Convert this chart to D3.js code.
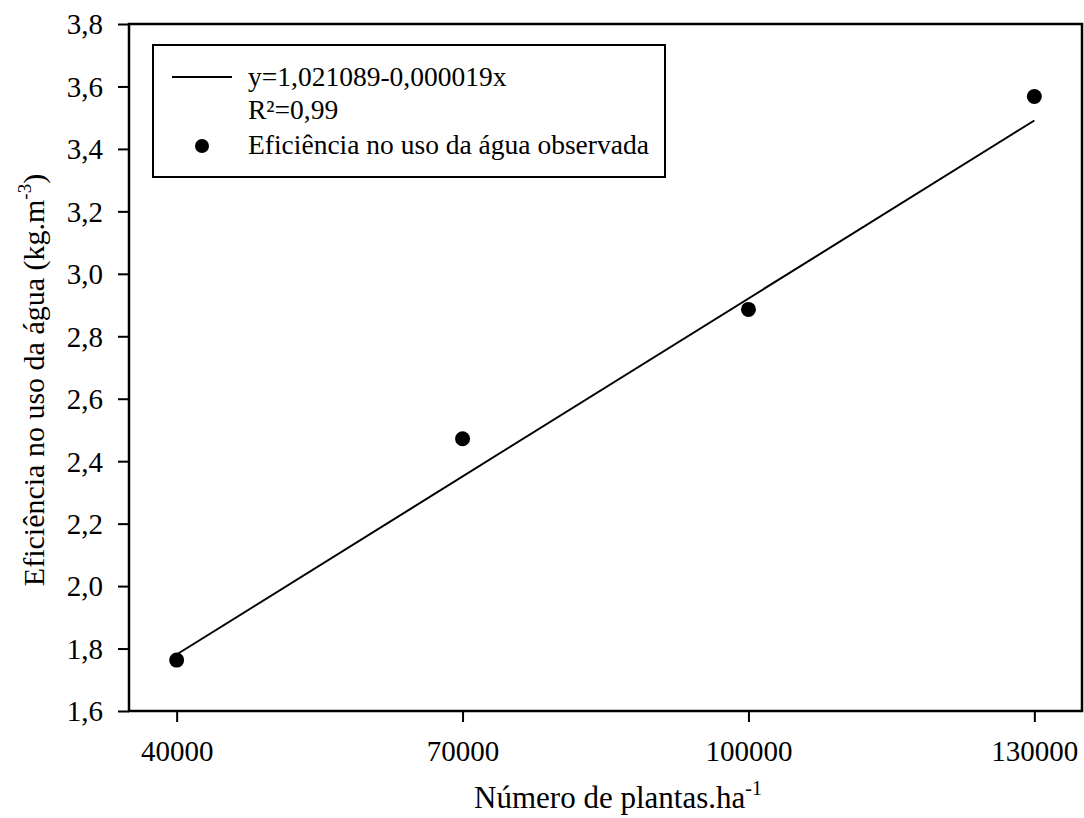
<!DOCTYPE html>
<html>
<head>
<meta charset="utf-8">
<script src="https://cdn.jsdelivr.net/npm/d3@7"></script>
<style>
    html, body { margin: 0; padding: 0; background: #fff; }
    svg { display: block; }
</style>
</head>
<body>
<div id="chartDiv"></div>
<script>
'use strict';

// Plant density (plants per hectare)
const plantDensity = [40000, 70000, 100000, 130000];
// Observed water use efficiency (kg.m-3)
const observedEfficiency = [1.763, 2.472, 2.886, 3.568];
// Fitted line at both ends
const fitDensity = [40000, 130000];
const fitEfficiency = [1.781, 3.491];

const xTicks = [40000, 70000, 100000, 130000];
const yTicks = [1.6, 1.8, 2.0, 2.2, 2.4, 2.6, 2.8, 3.0, 3.2, 3.4, 3.6, 3.8];

const legendLabels = ['y=1,021089-0,000019x', 'R²=0,99', 'Eficiência no uso da água observada'];

const width = 1084;
const height = 818;
const plot = { left: 129, right: 1082, top: 24, bottom: 711 };
const fontFamily = 'Liberation Serif';

function main() {
    let svg = d3.select('#chartDiv')
        .append('svg')
        .attr('width', width)
        .attr('height', height)
        .attr('font-family', fontFamily);

    let x = d3.scaleLinear().domain([35000, 135000]).range([plot.left, plot.right]);
    let y = d3.scaleLinear().domain([1.6, 3.8]).range([plot.bottom, plot.top]);

    drawAxes(svg, x, y);
    drawFit(svg, x, y);
    drawPoints(svg, x, y);
    drawLegend(svg);
    drawTitles(svg);
}

/*** Draws the frame, ticks and tick labels ***/
function drawAxes(svg, x, y) {
    const commaFormat = d => d.toFixed(1).replace('.', ',');

    let xAxis = svg.append('g')
        .attr('transform', `translate(0, ${plot.bottom})`)
        .call(d3.axisBottom(x).tickValues(xTicks).tickSize(11).tickPadding(18).tickFormat(d => String(d)));

    let yAxis = svg.append('g')
        .attr('transform', `translate(${plot.left}, 0)`)
        .call(d3.axisLeft(y).tickValues(yTicks).tickSize(11).tickPadding(15).tickFormat(commaFormat));

    [xAxis, yAxis].forEach(axis => {
        // d3 puts sans-serif on the axis group, put the serif back
        axis.attr('font-family', fontFamily).attr('font-size', 29);
        axis.select('.domain').remove();
        axis.selectAll('line').attr('stroke', '#000').attr('stroke-width', 2);
        axis.selectAll('text').attr('fill', '#000');
    });
    yAxis.selectAll('text').attr('dy', '0.34em');
    xAxis.selectAll('text').attr('dy', '0.72em');

    // Box round the plot area
    svg.append('rect')
        .attr('x', plot.left)
        .attr('y', plot.top)
        .attr('width', plot.right - plot.left)
        .attr('height', plot.bottom - plot.top)
        .attr('fill', 'none')
        .attr('stroke', '#000')
        .attr('stroke-width', 2.5);
}

/*** Draws the regression line ***/
function drawFit(svg, x, y) {
    let line = d3.line()
        .x(d => x(d[0]))
        .y(d => y(d[1]));

    svg.append('path')
        .datum(d3.zip(fitDensity, fitEfficiency))
        .attr('d', line)
        .attr('fill', 'none')
        .attr('stroke', '#000')
        .attr('stroke-width', 2);
}

/*** Draws the observed points ***/
function drawPoints(svg, x, y) {
    svg.selectAll('.point')
        .data(d3.zip(plantDensity, observedEfficiency))
        .enter()
        .append('circle')
        .classed('point', true)
        .attr('cx', d => x(d[0]))
        .attr('cy', d => y(d[1]))
        .attr('r', 7.5)
        .attr('fill', '#000');
}

/*** Draws the legend box in the upper left corner ***/
function drawLegend(svg) {
    let legend = svg.append('g');

    legend.append('rect')
        .attr('x', 153)
        .attr('y', 45)
        .attr('width', 512)
        .attr('height', 132)
        .attr('fill', '#fff')
        .attr('stroke', '#000')
        .attr('stroke-width', 2);

    legend.append('line')
        .attr('x1', 172).attr('x2', 232)
        .attr('y1', 77).attr('y2', 77)
        .attr('stroke', '#000')
        .attr('stroke-width', 2);

    legend.append('circle')
        .attr('cx', 202)
        .attr('cy', 146)
        .attr('r', 7)
        .attr('fill', '#000');

    const baselines = [86, 119, 154];
    legend.selectAll('.legendText')
        .data(legendLabels)
        .enter()
        .append('text')
        .classed('legendText', true)
        .attr('x', 248)
        .attr('y', (d, i) => baselines[i])
        .attr('font-size', 27.5)
        .text(d => d);
}

/*** Axis titles, with superscript units ***/
function drawTitles(svg) {
    let xTitle = svg.append('text')
        .attr('x', 618)
        .attr('y', 808)
        .attr('text-anchor', 'middle')
        .attr('font-size', 31);
    xTitle.append('tspan').text('Número de plantas.ha');
    xTitle.append('tspan').attr('dy', -13).attr('font-size', 20).text('-1');

    let yTitle = svg.append('text')
        .attr('transform', 'translate(44, 380) rotate(-90)')
        .attr('text-anchor', 'middle')
        .attr('font-size', 30);
    yTitle.append('tspan').text('Eficiência no uso da água (kg.m');
    yTitle.append('tspan').attr('dy', -13).attr('font-size', 19).text('-3');
    yTitle.append('tspan').attr('dy', 13).text(')');
}

main();
</script>
</body>
</html>
